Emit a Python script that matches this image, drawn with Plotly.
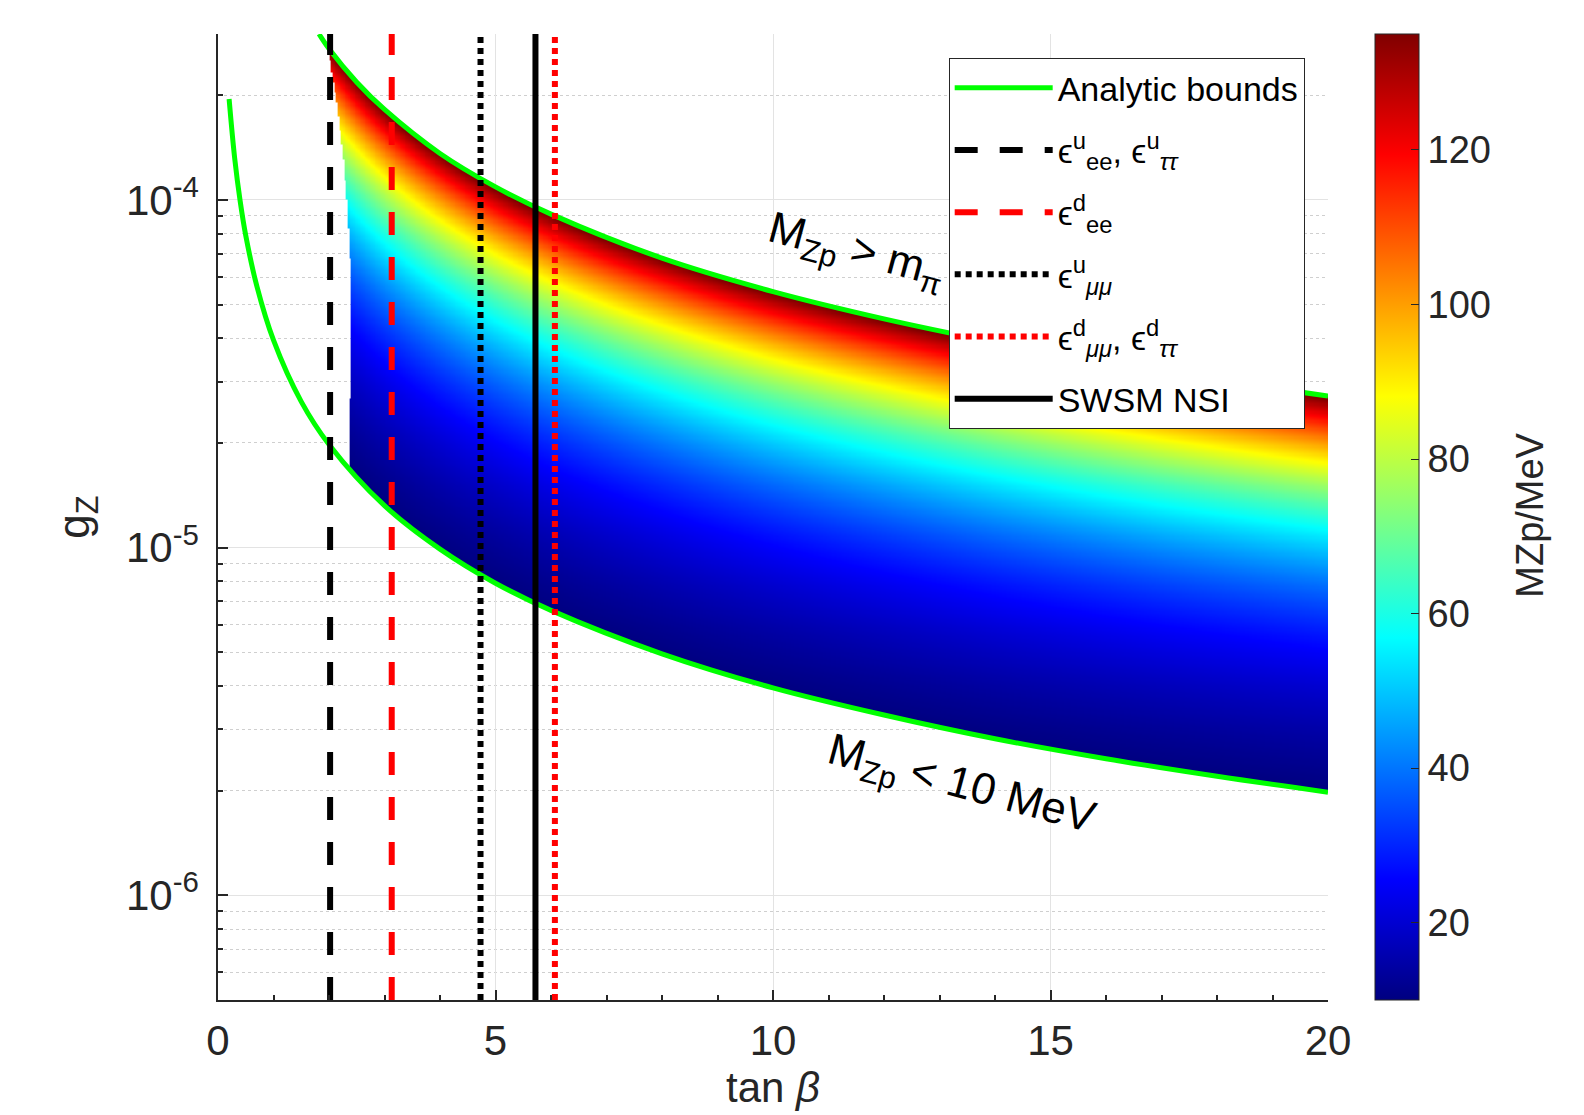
import numpy as np
import plotly.graph_objects as go

# ---------------- data ----------------
# Lower analytic bound  (M_Zp = 10 MeV)
tanb_lo = [0.2, 0.3, 0.4, 0.5, 0.7, 1.0, 1.5, 2.0, 3.0, 4.0, 5.0, 6.0, 8.0,
           10.0, 12.0, 14.0, 16.0, 18.0, 20.0]
g_lo = [1.95e-4, 1.32e-4, 9.9e-5, 7.9e-5, 5.65e-5, 3.95e-5, 2.63e-5, 1.98e-5,
        1.32e-5, 9.9e-6, 7.9e-6, 6.6e-6, 4.95e-6, 3.95e-6, 3.3e-6, 2.82e-6,
        2.47e-6, 2.2e-6, 1.98e-6]
# Upper analytic bound  (M_Zp = m_pi)
tanb_up = [1.82, 2.0, 2.5, 3.0, 4.0, 5.0, 6.0, 8.0, 10.0, 12.0, 14.0, 16.0, 18.0, 20.0]
g_up = [3.0e-4, 2.72e-4, 2.18e-4, 1.82e-4, 1.36e-4, 1.09e-4, 9.1e-5, 6.8e-5,
        5.45e-5, 4.55e-5, 3.9e-5, 3.4e-5, 3.03e-5, 2.73e-5]
# Left edge of the scanned points (g_Z, tan beta)
edge_g = [1.65e-5, 5.6e-5, 1.0e-4, 1.36e-4, 1.9e-4, 2.75e-4]
edge_tanb = [2.36, 2.41, 2.32, 2.25, 2.14, 1.98]
scan_tanb_max = 20.0
mzp_range = [10, 135]          # colour range, MeV

# NSI constraint lines
nsi_names = ["ϵ<sup>u</sup><sub>ee</sub>, ϵ<sup>u</sup><sub><i>ττ</i></sub>",
             "ϵ<sup>d</sup><sub>ee</sub>",
             "ϵ<sup>u</sup><sub><i>μμ</i></sub>",
             "ϵ<sup>d</sup><sub><i>μμ</i></sub>, ϵ<sup>d</sup><sub><i>ττ</i></sub>",
             "SWSM NSI"]
nsi_tanb = [2.02, 3.13, 4.73, 6.07, 5.72]
nsi_colors = ["#000000", "#ff0000", "#000000", "#ff0000", "#000000"]
nsi_dash = ["23px,22px", "23px,22px", "6px,5px", "6px,5px", "solid"]

x_range = [0, 20]
y_range = [5e-7, 3e-4]
y_major = [1e-6, 1e-5, 1e-4]
y_major_text = ["10<sup>-6</sup>", "10<sup>-5</sup>", "10<sup>-4</sup>"]
cbar_ticks = [20, 40, 60, 80, 100, 120]

# ---------------- scanned region as a colour field ----------------
xs = np.arange(1.9, scan_tanb_max + 1e-9, 0.03)
logy = np.linspace(-5.85, -3.5, 720)
ys = 10 ** logy
X, LY = np.meshgrid(xs, logy)
lx = np.log10(X)
lglo = np.interp(lx, np.log10(tanb_lo), np.log10(g_lo))
lgup = np.interp(lx, np.log10(tanb_up), np.log10(g_up))
tedge = np.interp(LY, np.log10(edge_g), edge_tanb)
mask = (LY >= lglo) & (LY <= lgup) & (X >= tedge) & (X <= scan_tanb_max)
M = mzp_range[0] * 10 ** (LY - lglo)
M = np.clip(M, mzp_range[0], mzp_range[1])
Z = np.where(mask, np.round(M, 1), np.nan)
Zl = [[(None if np.isnan(v) else float(v)) for v in row] for row in Z]

jet = [[0.0, "rgb(0,0,128)"], [0.125, "rgb(0,0,255)"], [0.375, "rgb(0,255,255)"],
       [0.625, "rgb(255,255,0)"], [0.875, "rgb(255,0,0)"], [1.0, "rgb(128,0,0)"]]

FONT = "Liberation Sans, Arial, Helvetica, sans-serif"
AX = "#262626"

fig = go.Figure()
fig.add_trace(go.Heatmap(
    x=xs.tolist(), y=ys.tolist(), z=Zl, colorscale=jet,
    zmin=mzp_range[0], zmax=mzp_range[1], zsmooth=False,
    hoverinfo="skip", showlegend=False,
    colorbar=dict(x=1.0423, xanchor="left", xpad=0, y=0.5, yanchor="middle",
                  len=1, lenmode="fraction", ypad=0, thickness=44,
                  outlinewidth=1, outlinecolor=AX,
                  tickmode="array", tickvals=cbar_ticks, ticks="inside",
                  ticklen=8, tickcolor=AX,
                  tickfont=dict(size=38, color=AX, family=FONT))))

fig.add_trace(go.Scatter(x=tanb_lo, y=g_lo, mode="lines", name="Analytic bounds",
                         legendgroup="bounds",
                         line=dict(color="#00ff00", width=5, shape="spline")))
fig.add_trace(go.Scatter(x=tanb_up, y=g_up, mode="lines", name="Analytic bounds",
                         legendgroup="bounds", showlegend=False,
                         line=dict(color="#00ff00", width=5, shape="spline")))

for name, t, c, d in zip(nsi_names, nsi_tanb, nsi_colors, nsi_dash):
    fig.add_trace(go.Scatter(x=[t, t], y=y_range, mode="lines", name=name,
                             legendgroup=name,
                             line=dict(color=c, width=6, dash=d)))

fig.add_annotation(x=11.5, y=-4.15, xref="x", yref="y", showarrow=False,
                   text="M<sub>Zp</sub> &gt; m<sub>π</sub>", textangle=15,
                   font=dict(size=44, color="black", family=FONT))
fig.add_annotation(x=13.4, y=-5.685, xref="x", yref="y", showarrow=False,
                   text="M<sub>Zp</sub> &lt; 10 MeV", textangle=15,
                   font=dict(size=44, color="black", family=FONT))
# colour-bar title
fig.add_annotation(x=1.2024, y=0.502, xref="paper", yref="paper", showarrow=False,
                   text="MZp/MeV", textangle=-90,
                   font=dict(size=38, color=AX, family=FONT))

minor_y = [m * 10.0 ** e for e in (-7, -6, -5, -4) for m in range(2, 10)
           if y_range[0] <= m * 10.0 ** e <= y_range[1]]

fig.update_layout(
    width=1584, height=1115,
    margin=dict(l=218, r=256, t=34, b=115, pad=0),
    paper_bgcolor="white", plot_bgcolor="white",
    font=dict(family=FONT, color=AX),
    legend=dict(x=0.979, y=0.975, xanchor="right", yanchor="top",
                bgcolor="white", bordercolor=AX, borderwidth=1,
                font=dict(size=34, color="black", family=FONT),
                itemwidth=98, tracegroupgap=15),
    xaxis=dict(range=x_range, tick0=0, dtick=5, ticks="inside", ticklen=10,
               tickwidth=1.5, tickcolor=AX, showline=True, linecolor=AX,
               linewidth=1.5, showgrid=True, gridcolor="#e3e3e3", zeroline=False,
               tickfont=dict(size=42, color=AX), ticklabelstandoff=3,
               minor=dict(dtick=1, ticks="inside", ticklen=5, tickcolor=AX,
                          showgrid=False),
               title=dict(text="tan <i>β</i>", font=dict(size=42, color=AX),
                          standoff=6)),
    yaxis=dict(type="log", range=[np.log10(y_range[0]), np.log10(y_range[1])],
               tickmode="array", tickvals=y_major, ticktext=y_major_text,
               ticks="inside", ticklen=10, tickwidth=1.5, tickcolor=AX,
               showline=True, linecolor=AX, linewidth=1.5,
               showgrid=True, gridcolor="#e3e3e3", zeroline=False,
               tickfont=dict(size=42, color=AX), ticklabelstandoff=9,
               minor=dict(tickmode="array", tickvals=minor_y, ticks="inside",
                          ticklen=5, tickcolor=AX, showgrid=True,
                          gridcolor="#cfcfcf", griddash="dot"),
               title=dict(text="g<sub>Z</sub>", font=dict(size=44, color=AX),
                          standoff=23)),
)

fig.write_html("out.html", config={"displayModeBar": False},
               post_script="document.body.style.margin='0';document.body.style.overflow='hidden';")
